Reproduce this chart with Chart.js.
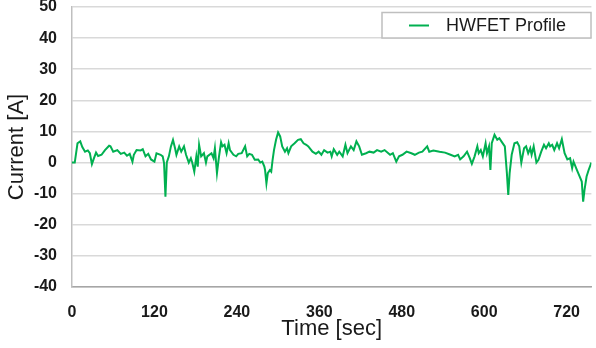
<!DOCTYPE html>
<html>
<head>
<meta charset="utf-8">
<script src="https://cdn.jsdelivr.net/npm/chart.js@4/dist/chart.umd.min.js"></script>
<style>
  html, body { margin: 0; padding: 0; background: #fff; overflow: hidden; }
  #wrap { width: 596px; height: 348px; }
</style>
</head>
<body>
<div id="wrap"><canvas id="hwfetChart" width="596" height="348"></canvas></div>
<script>
// 时间轴 (sec)
const timeSec = [0, 4, 8, 12, 15, 19, 23, 26, 29, 32, 35, 38, 43, 48, 54, 56, 60, 66, 71, 76,
  80, 84, 88, 90, 94, 100, 103, 107, 111, 115, 120, 123, 129, 132, 134, 136, 138, 141, 144, 147,
  150, 152, 156, 159, 163, 166, 170, 173, 175, 178, 181, 183, 185, 188, 192, 195, 197, 203, 206, 208,
  211, 214, 217, 219, 222, 225, 228, 230, 235, 239, 242, 247, 252, 255, 258, 262, 266, 271, 274, 277,
  280, 281, 283, 285, 288, 290, 292, 294, 297, 300, 303, 306, 310, 313, 315, 319, 324, 329, 333, 337,
  341, 344, 350, 355, 359, 363, 367, 372, 376, 378, 381, 386, 389, 394, 398, 401, 406, 410, 414, 418,
  422, 428, 433, 439, 444, 450, 455, 463, 467, 472, 476, 481, 487, 494, 499, 505, 510, 517, 520, 526,
  535, 543, 551, 557, 562, 565, 570, 575, 579, 582, 586, 590, 592, 595, 598, 602, 604, 607, 609, 611,
  615, 619, 622, 625, 630, 633, 635, 637, 640, 644, 648, 651, 654, 658, 661, 664, 667, 669, 672, 676,
  679, 683, 687, 690, 694, 696, 699, 702, 706, 709, 713, 717, 721, 725, 728, 730, 735, 739, 742, 744,
  746, 749, 752, 756];
// 电流 (A)
const currentA = [0, 0, 6.2, 6.8, 5, 3.5, 3.9, 3, -0.5, 1.4, 3.2, 2.1, 2.5, 4, 5.4, 5.2, 3.5, 4, 2.8, 3.2,
  2.2, 2.8, 0.3, 2.5, 4, 3.9, 4.3, 2, 2.8, 1, 0.3, 3, 2.5, 2, -0.2, -11, 0, 2, 5.2, 7.3,
  4.6, 2.5, 5.2, 3.5, 5.2, 2.5, 0, 1.4, 0, -2.9, 2, -1.3, 5.7, 2, 3, 0, 2, 3, 1.4, 4.6,
  -3.4, 2, 6.5, 5.2, 5.7, 3, 6.2, 4, 2.5, 2, 2.8, 3, 5.2, 2, 2.8, 2.5, 0.9, 1, 0, 0.3,
  -1.3, -2.4, -6.7, -3.4, -2.4, -2.9, 0.9, 4, 7.3, 9.7, 8.4, 5.2, 3.5, 4.6, 3, 5.2, 6.2, 7.3, 7.5, 6.2,
  5.7, 5.2, 3.5, 2.8, 3.5, 2.5, 4, 3.2, 3.5, 2, 4.3, 2.5, 3.5, 2, 5.7, 3, 5.2, 4, 6.8, 5.2,
  2.5, 3, 3.5, 3.2, 4, 3.5, 4, 2.5, 3, 0.3, 2, 2.5, 3.5, 3, 2.5, 3.2, 3.5, 5.2, 3.5, 3.9,
  3.5, 3.2, 2.5, 2, 2.5, 1, 2, 3.5, 1.4, -0.4, 2, 5.2, 3, 4, 2, 6.2, 3, 5.2, -2.4, 6.2,
  8.9, 7.3, 7.8, 6.8, 5.2, -3.4, -10.4, -3.4, 2.5, 6.2, 6.5, 5.2, 0, 4.6, 5.2, 3, 4.6, 2.5, 5.2, 0,
  0.9, 3.5, 5.7, 4.6, 6.2, 5.2, 5.7, 4, 6.2, 4.6, 7.5, 3, 1, 1.4, -1.8, 0.3, -2.4, -4.5, -6.1, -12.6,
  -8.8, -4.5, -2.4, 0];
// 刻度
const xTicks = [0, 120, 240, 360, 480, 600, 720];
const yTicks = [-40, -30, -20, -10, 0, 10, 20, 30, 40, 50];
const seriesName = 'HWFET Profile';

const lineColor = '#00b050';
const fontName = '"Liberation Sans", Arial, sans-serif';

/**
 * 带边框的图例
 */
const boxLegend = {
  id: 'boxLegend',
  afterDraw(chart) {
    const ctx = chart.ctx;
    const ds = chart.data.datasets[0];
    ctx.save();
    ctx.fillStyle = '#fff';
    ctx.strokeStyle = '#bfbfbf';
    ctx.lineWidth = 1.5;
    ctx.fillRect(382, 12.5, 209, 25.5);
    ctx.strokeRect(382, 12.5, 209, 25.5);
    ctx.strokeStyle = ds.borderColor;
    ctx.lineWidth = 2;
    ctx.beginPath();
    ctx.moveTo(409, 25.5);
    ctx.lineTo(429, 25.5);
    ctx.stroke();
    ctx.fillStyle = '#1a1a1a';
    ctx.font = '18px ' + fontName;
    ctx.textBaseline = 'middle';
    ctx.fillText(ds.label, 446, 26);
    ctx.restore();
  }
};

const ctxLine = document.getElementById('hwfetChart').getContext('2d');
new Chart(ctxLine, {
  type: 'line',
  data: {
    datasets: [{
      label: seriesName,
      data: timeSec.map((t, i) => ({ x: t, y: currentA[i] })),
      borderColor: lineColor,
      borderWidth: 2,
      pointRadius: 0,
      tension: 0,
      fill: false
    }]
  },
  options: {
    responsive: false,
    animation: false,
    devicePixelRatio: 1,
    layout: { padding: 0 },
    plugins: {
      legend: { display: false },
      tooltip: { enabled: false }
    },
    scales: {
      x: {
        type: 'linear',
        min: 0,
        max: 756,
        afterBuildTicks: (s) => { s.ticks = xTicks.map(v => ({ value: v })); },
        afterFit: (s) => { s.height = 61; },
        grid: { display: false, drawTicks: false },
        border: { display: true, color: '#a6a6a6', width: 1.5 },
        ticks: {
          padding: 16,
          color: '#1a1a1a',
          font: { family: fontName, size: 16, weight: 'bold' },
          maxRotation: 0
        },
        title: {
          display: true,
          text: 'Time [sec]',
          color: '#1a1a1a',
          font: { family: fontName, size: 22 },
          padding: { top: 0, bottom: 6 }
        }
      },
      y: {
        min: -40,
        max: 50,
        afterBuildTicks: (s) => { s.ticks = yTicks.map(v => ({ value: v })); },
        // 固定轴宽和上边距
        afterFit: (s) => { s.width = 72; s.paddingTop = 7; s.paddingBottom = 0; },
        grid: { color: '#d9d9d9', lineWidth: 1.5, drawTicks: false },
        border: { display: true, color: '#bfbfbf', width: 1.5 },
        ticks: {
          padding: 15,
          color: '#1a1a1a',
          font: { family: fontName, size: 16, weight: 'bold' }
        },
        title: {
          display: true,
          text: 'Current [A]',
          color: '#1a1a1a',
          font: { family: fontName, size: 22 },
          padding: { top: 4, bottom: 0 }
        }
      }
    }
  },
  plugins: [boxLegend]
});
</script>
</body>
</html>
